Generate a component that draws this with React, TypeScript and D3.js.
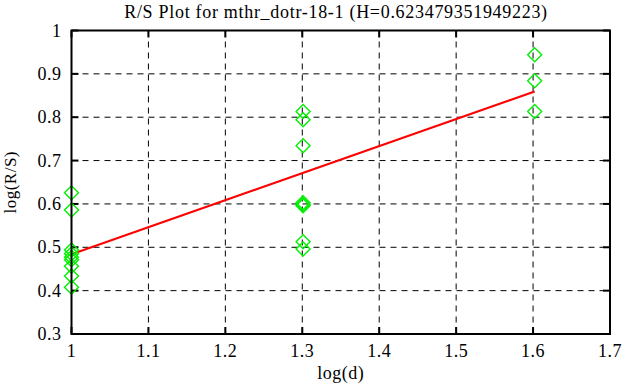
import * as React from 'react';
import * as d3 from 'd3';

const title = 'R/S Plot for mthr_dotr-18-1 (H=0.623479351949223)';
const xTicks = [1, 1.1, 1.2, 1.3, 1.4, 1.5, 1.6, 1.7];
const yTicks = [0.3, 0.4, 0.5, 0.6, 0.7, 0.8, 0.9, 1];

// log(d) per sample and log(R/S)
const logD = [
  1, 1, 1, 1, 1, 1, 1, 1, 1,
  1.30103, 1.30103, 1.30103, 1.30103, 1.30103, 1.30103, 1.30103, 1.30103,
  1.60206, 1.60206, 1.60206,
];
const logRS = [
  0.626, 0.586, 0.494, 0.485, 0.477, 0.471, 0.456, 0.434, 0.408,
  0.813, 0.794, 0.734, 0.603, 0.599, 0.596, 0.513, 0.496,
  0.944, 0.884, 0.813,
];

const H = 0.623479351949223;
const intercept = 0.484 - H;
const fitX = [1, 1.60206];

const margin = { top: 30.5, right: 16, bottom: 53, left: 71.5 };
const width = 626;
const height = 387;

export default function App() {
  const x = d3
    .scaleLinear()
    .domain([1, 1.7])
    .range([margin.left, width - margin.right]);
  const y = d3
    .scaleLinear()
    .domain([0.3, 1])
    .range([height - margin.bottom, margin.top]);

  const line = d3
    .line<number>()
    .x(d => x(d))
    .y(d => y(intercept + H * d));

  const diamond = (cx: number, cy: number) => {
    const r = 7;
    return `M${cx},${cy - r}L${cx + r},${cy}L${cx},${cy + r}L${cx - r},${cy}Z`;
  };

  const [x0, x1] = x.range();
  const [y0, y1] = y.range();
  const font = '"Liberation Serif", "DejaVu Serif", serif';

  return (
    <svg
      width={width}
      height={height}
      style={{ position: 'absolute', left: 0, top: 0, background: '#fff' }}
      fontFamily={font}
    >
      <rect width={width} height={height} fill="#fff" />
      <g stroke="#000" strokeWidth={1} strokeDasharray="6 5">
        {xTicks.slice(1, -1).map(t => (
          <line key={'gx' + t} x1={x(t)} x2={x(t)} y1={y1} y2={y0} />
        ))}
        {yTicks.slice(1, -1).map(t => (
          <line key={'gy' + t} x1={x0} x2={x1} y1={y(t)} y2={y(t)} />
        ))}
      </g>
      <g stroke="#000" strokeWidth={2}>
        {xTicks.map(t => (
          <g key={'tx' + t}>
            <line x1={x(t)} x2={x(t)} y1={y0} y2={y0 - 7} />
            <line x1={x(t)} x2={x(t)} y1={y1} y2={y1 + 7} />
          </g>
        ))}
        {yTicks.map(t => (
          <g key={'ty' + t}>
            <line x1={x0} x2={x0 + 7} y1={y(t)} y2={y(t)} />
            <line x1={x1} x2={x1 - 7} y1={y(t)} y2={y(t)} />
          </g>
        ))}
      </g>
      <path d={line(fitX) ?? ''} stroke="#ff0000" strokeWidth={2} fill="none" />
      <g stroke="#00f000" strokeWidth={1.4} fill="none">
        {logD.map((d, i) => (
          <path key={'p' + i} d={diamond(x(d), y(logRS[i]))} />
        ))}
      </g>
      <rect
        x={x0}
        y={y1}
        width={x1 - x0}
        height={y0 - y1}
        fill="none"
        stroke="#000"
        strokeWidth={2}
      />
      <g fontSize={18} fill="#000">
        {xTicks.map(t => (
          <text key={'lx' + t} x={x(t)} y={y0 + 23} textAnchor="middle" letterSpacing={0.5}>
            {d3.format('')(t)}
          </text>
        ))}
        {yTicks.map(t => (
          <text key={'ly' + t} x={x0 - 10} y={y(t) + 6} textAnchor="end" letterSpacing={0.5}>
            {d3.format('')(t)}
          </text>
        ))}
        <text x={336} y={18} textAnchor="middle" letterSpacing={0.7}>
          {title}
        </text>
        <text x={(x0 + x1) / 2} y={379} textAnchor="middle" letterSpacing={0.5}>
          log(d)
        </text>
        <text
          transform={`translate(16,${(y0 + y1) / 2}) rotate(-90)`}
          textAnchor="middle"
          fontSize={17}
          letterSpacing={0.5}
        >
          log(R/S)
        </text>
      </g>
    </svg>
  );
}
